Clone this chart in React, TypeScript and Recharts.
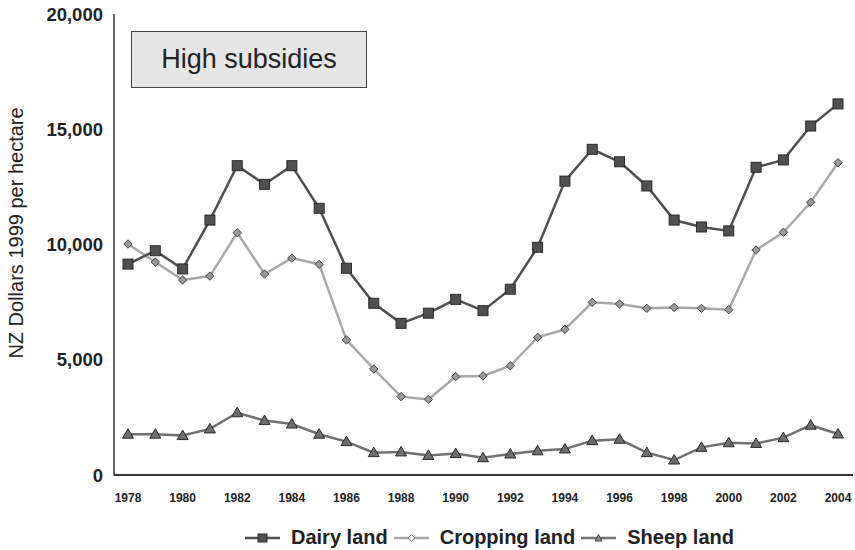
import { LineChart, Line, XAxis, YAxis } from "recharts";

const FONT = '"Liberation Sans", Arial, sans-serif';

const years = [
  1978, 1979, 1980, 1981, 1982, 1983, 1984, 1985, 1986, 1987, 1988, 1989, 1990,
  1991, 1992, 1993, 1994, 1995, 1996, 1997, 1998, 1999, 2000, 2001, 2002, 2003, 2004,
];

const dairyLand = [
  9150, 9730, 8940, 11060, 13420, 12610, 13420, 11570, 8970, 7450, 6580, 7020, 7620,
  7130, 8060, 9880, 12750, 14130, 13590, 12540, 11060, 10760, 10590, 13350, 13670, 15140, 16100,
];

const croppingLand = [
  10020, 9240, 8460, 8630, 10510, 8720, 9410, 9140, 5860, 4600, 3400, 3280, 4270,
  4300, 4740, 5970, 6320, 7490, 7420, 7230, 7270, 7230, 7170, 9760, 10530, 11830, 13550,
];

const sheepLand = [
  1770, 1770, 1710, 2000, 2700, 2360, 2210, 1770, 1450, 970, 1000, 850, 930,
  750, 910, 1050, 1130, 1490, 1550, 970, 650, 1200, 1400, 1370, 1620, 2160, 1780,
];

const xTicks = [1978, 1980, 1982, 1984, 1986, 1988, 1990, 1992, 1994, 1996, 1998, 2000, 2002, 2004];
const yTicks = [0, 5000, 10000, 15000, 20000];

const data = years.map((year, i) => ({
  year,
  dairy: dairyLand[i],
  cropping: croppingLand[i],
  sheep: sheepLand[i],
}));

const SquareDot = (props: any) => {
  const { cx, cy, index } = props;
  if (cx == null || cy == null) return <g key={`sq-${index}`} />;
  return (
    <rect key={`sq-${index}`} x={cx - 5} y={cy - 5} width={10} height={10} fill="#505050" stroke="#2a2a2a" strokeWidth={1} />
  );
};

const DiamondDot = (props: any) => {
  const { cx, cy, index } = props;
  if (cx == null || cy == null) return <g key={`dm-${index}`} />;
  const r = 4.2;
  return (
    <polygon
      key={`dm-${index}`}
      points={`${cx},${cy - r} ${cx + r},${cy} ${cx},${cy + r} ${cx - r},${cy}`}
      fill="#9a9a9a"
      stroke="#444"
      strokeWidth={1}
    />
  );
};

const TriangleDot = (props: any) => {
  const { cx, cy, index } = props;
  if (cx == null || cy == null) return <g key={`tr-${index}`} />;
  return (
    <polygon
      key={`tr-${index}`}
      points={`${cx},${cy - 5.5} ${cx + 5.5},${cy + 4} ${cx - 5.5},${cy + 4}`}
      fill="#6e6e6e"
      stroke="#2a2a2a"
      strokeWidth={1}
    />
  );
};

function LegendItem({ label, color, marker }: { label: string; color: string; marker: "square" | "diamond" | "triangle" }) {
  return (
    <div style={{ display: "flex", alignItems: "center", marginRight: 6 }}>
      <svg width={35} height={14} style={{ marginRight: 11 }}>
        <line x1={0} y1={7} x2={35} y2={7} stroke={color} strokeWidth={2.5} />
        {marker === "square" && <rect x={13} y={3} width={9} height={8} fill="#505050" stroke="#2a2a2a" />}
        {marker === "diamond" && <polygon points="17.5,3.5 21,7 17.5,10.5 14,7" fill="#f2f2f2" stroke="#777" />}
        {marker === "triangle" && <polygon points="17.5,3.5 21,10 14,10" fill="#8a8a8a" stroke="#444" />}
      </svg>
      <span style={{ fontWeight: "bold", fontSize: 20, color: "#222" }}>{label}</span>
    </div>
  );
}

export default function App() {
  return (
    <div style={{ position: "absolute", left: 0, top: 0, width: 855, height: 550, background: "#fff", fontFamily: FONT }}>
      <LineChart width={855} height={550} data={data} margin={{ top: 14, right: 2, bottom: 45, left: 0 }}>
        <XAxis
          dataKey="year"
          type="number"
          domain={[1978, 2004]}
          ticks={xTicks}
          padding={{ left: 14, right: 15 }}
          height={30}
          tickLine={false}
          tickSize={6}
          tickMargin={12}
          axisLine={{ stroke: "#333", strokeWidth: 2 }}
          tick={{ fontSize: 12, fontWeight: "bold", fill: "#222", fontFamily: FONT }}
        />
        <XAxis xAxisId="top" orientation="top" dataKey="year" type="number" domain={[1978, 2004]} height={0} tick={false} tickLine={false} axisLine={{ stroke: "#333", strokeWidth: 1.5 }} />
        <YAxis
          domain={[0, 20000]}
          ticks={yTicks}
          width={114}
          tickLine={false}
          tickSize={6}
          tickMargin={5}
          axisLine={{ stroke: "#333", strokeWidth: 1.5 }}
          tickFormatter={(v: number) => v.toLocaleString("en-US")}
          tick={{ fontSize: 18.5, fontWeight: "bold", fill: "#222", fontFamily: FONT }}
          label={{
            content: () => (
              <text x={16} y={233} transform="rotate(-90 16 233)" textAnchor="middle" dominantBaseline="central" fontSize={20} fill="#222" fontFamily={FONT}>
                NZ Dollars 1999 per hectare
              </text>
            ),
          }}
        />
        <YAxis yAxisId="right" orientation="right" domain={[0, 20000]} width={0} tick={false} tickLine={false} axisLine={{ stroke: "#333", strokeWidth: 1.5 }} />
        <Line dataKey="sheep" stroke="#707070" strokeWidth={2.5} dot={TriangleDot} activeDot={false} isAnimationActive={false} />
        <Line dataKey="cropping" stroke="#a8a8a8" strokeWidth={2.5} dot={DiamondDot} activeDot={false} isAnimationActive={false} />
        <Line dataKey="dairy" stroke="#4e4e4e" strokeWidth={2.5} dot={SquareDot} activeDot={false} isAnimationActive={false} />
      </LineChart>
      <div
        style={{
          position: "absolute",
          left: 131,
          top: 31,
          width: 234,
          height: 55,
          background: "#e6e6e6",
          border: "1px solid #444",
          display: "flex",
          alignItems: "center",
          justifyContent: "center",
          fontSize: 27,
          color: "#222",
        }}
      >
        High subsidies
      </div>
      <div style={{ position: "absolute", left: 245, top: 526, display: "flex", alignItems: "center" }}>
        <LegendItem label="Dairy land" color="#4e4e4e" marker="square" />
        <LegendItem label="Cropping land" color="#a8a8a8" marker="diamond" />
        <LegendItem label="Sheep land" color="#707070" marker="triangle" />
      </div>
    </div>
  );
}
